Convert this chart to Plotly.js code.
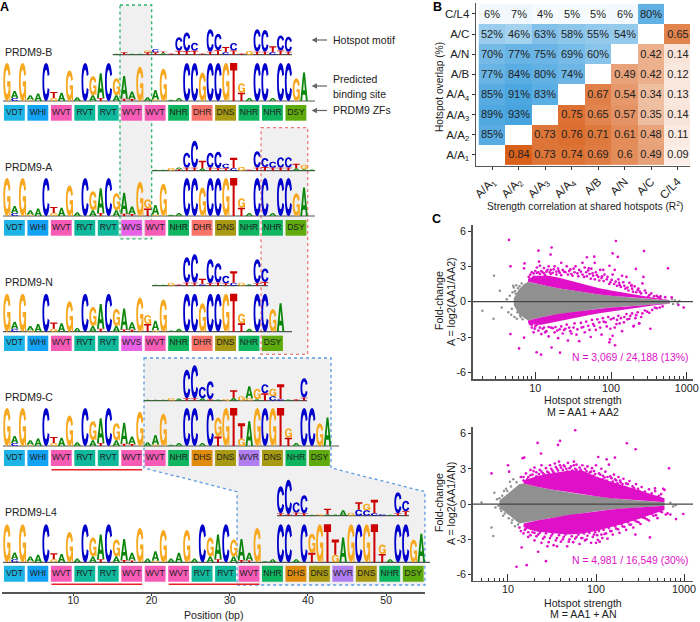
<!DOCTYPE html>
<html><head><meta charset="utf-8">
<script src="https://cdn.plot.ly/plotly-3.0.1.min.js"></script>
<style>html,body{margin:0;padding:0;background:#fff}</style></head>
<body><div id="chart" style="width:700px;height:622px"></div>
<script>
// ---------- Panel A data: each column = letters bottom-to-top with height (% of full logo height)
const rowNames = ["PRDM9-B","PRDM9-A","PRDM9-N","PRDM9-C","PRDM9-L4"];
const zfB = ["VDT","WHI","WVT","RVT","RVT","WVT","WVT","NHR","DHR","DNS","NHR","NHR","DSY"];
const zfA = ["VDT","WHI","WVT","RVT","RVT","WVS","WVT","NHR","DHR","DNS","NHR","NHR","DSY"];
const zfN = ["VDT","WHI","WVT","RVT","RVT","WVS","WVT","NHR","DHR","DNS","NHR","DSY"];
const zfC = ["VDT","WHI","WVT","RVT","RVT","WVT","WVT","NHR","DHS","DNS","WVR","DNS","NHR","DSY"];
const zfL = ["VDT","WHI","WVT","RVT","RVT","WVT","WVT","WVT","RVT","RVT","WVT","NHR","DHS","DNS","WVR","DNS","NHR","DSY"];
const predB = "G100 C8A18 G100 G3A12 A20 C100 G8T16 A22 G80 A10 C100 A15G50 T8A65 C100 A15G45 T6A60 T5A20 G90 A10 G4A25 G85 A3 A8 C100 C100 G75 C100 C100 G100 T100 T22G25 A8 C100 C100 A8 C100 C100 G60 A75";
const predA = "G100 C8A18 G100 G3A12 A20 C100 G8T16 A22 G80 A10 C100 A15G50 T8A65 C100 A15G45 T6A55 T5A20 G90 T20G24 G4A25 G85 A3 A8 C100 C100 G75 C100 C100 G100 T100 T22G25 A8 C100 C100 A8 C100 C100 G60 A75";
const predN = "G100 C8A18 G100 G3A12 A20 C100 G8T16 A22 G80 A10 C100 A15G50 T8A65 C100 A15G45 T6A55 T5A20 G90 T20G24 G4A25 G85 A3 A8 C100 C100 G75 C100 C100 G100 T100 T22G25 A8 C100 C100 G60 A75";
const predC = "G100 C8A18 G100 G3A12 A20 C100 G8T16 A22 G80 A10 C100 A15G50 T8A65 C100 A15G45 T6A55 T5A20 G90 A10 G4A25 G85 A3 A8 C100 C100 A8 C100 T25G50 G100 T100 G20T40 A65 G100 C100 G100 T100 T22G25 A8 C100 C100 G60 A75";
const predL = "G100 C8A18 G100 G3A12 A20 C100 G8T16 A22 G80 A10 C100 A15G50 T8A65 C100 A15G45 T6A55 T5A20 G90 A10 G4A25 G85 A10 A25 G85 A10 C100 A15G50 T8A65 C100 A15G45 T6A55 T5A20 G90 A3 A8 C100 C100 A8 C100 T25G50 G100 T100 G20T40 A65 G100 C100 G100 T100 T22G25 A8 C100 C100 G60 A75";
const motifStartB = 15, motifStartA = 20, motifStartN = 20, motifStartC = 19, motifStartL = 36;
const motifB = "A3 T8 A3 A3 T8G6 T8C10 A6T5 T4 T13C45 T12C62 T13C27 T4 T10C75 T15C55 C8T18 T14C25 T4 G12 T10C75 T10C72 C8T20 T14C50 T10C50";
const motifA = "A3 A3 G9 T5A6 T10C50 T10C90 A8T25 T10C50 T8C55 T8C15 C8T35 G12 T3 T10C55 T12C30 T10C20 T10C35 T10C35 A8T15 A5G15 A4";
const motifN = "A3 A3 G10 T4 T10C85 T10C95 C5T18 T8C80 T10C65 T8C25 C10T38 G10 A5 T8C80 T12C45";
const motifC = "A3 A3 A3 G8 A7 T8C95 T8C110 A8C38 T5C60 A4 G6 A10T25 G15 G8A40 A5G35 T25C30 C15G25 C5T50 A4 T5 T10C65";
const motifL = "T8C90 T5C115 T10C35 T8C60 A3 G6 A5T18 A4 A18 G10 C20T25 C18G22 C8T45 C5 A3 T8C70 T15C35";
const zfColors = {VDT:"#1EB5E6",WHI:"#14A2F5",WVT:"#F65CB6",WVS:"#E762E6",RVT:"#10B89C",NHR:"#10B560",DHR:"#F8736A",DHS:"#DF8C0C",DNS:"#A89A12",DSY:"#5FAB0E",WVR:"#B07EF0"};
const letterColors = {G:"#F7A81E",A:"#0A860A",C:"#0000CC",T:"#CC0000"};
const positionTicks = [10,20,30,40,50];

// ---------- Panel B data
const pairLabels = ["A/A<sub>1</sub>","A/A<sub>2</sub>","A/A<sub>3</sub>","A/A<sub>4</sub>","A/B","A/N","A/C","C/L4"];
const overlapPct = [
 [null,null,null,null,null,null,null,null],
 [85,null,null,null,null,null,null,null],
 [89,93,null,null,null,null,null,null],
 [85,91,83,null,null,null,null,null],
 [77,84,80,74,null,null,null,null],
 [70,77,75,69,60,null,null,null],
 [52,46,63,58,55,54,null,null],
 [6,7,4,5,5,6,80,null]];
const strengthR2 = [
 [null,0.84,0.73,0.74,0.69,0.6,0.49,0.09],
 [null,null,0.73,0.76,0.71,0.61,0.48,0.11],
 [null,null,null,0.75,0.65,0.57,0.35,0.14],
 [null,null,null,null,0.67,0.54,0.34,0.13],
 [null,null,null,null,null,0.49,0.42,0.12],
 [null,null,null,null,null,null,0.42,0.14],
 [null,null,null,null,null,null,null,0.65],
 [null,null,null,null,null,null,null,null]];

// ---------- Panel C data: dense bands as envelopes, sparse points individually
const topLeftM = [5.2,6,7], topLeftUp=[.3,1.0,1.45], topLeftLo=[-.3,-1.0,-1.35];
const topBandM = [8,9,10,12,15,20,30,50,70,100,150,200,300,400,600];
const topGreyUp = [1.7,1.6,1.55,1.42,1.3,1.15,.95,.75,.62,.5,.4,.33,.25,.2,.12];
const topGreyLo = [-1.6,-1.55,-1.45,-1.32,-1.2,-1.05,-.9,-.72,-.6,-.5,-.42,-.35,-.28,-.22,-.15];
const topMagUp = [1.95,2.05,2.2,2.2,2.2,2.05,1.75,1.38,1.15,.95,.75,.6,.42,.3,.15];
const topMagLo = [-1.8,-1.9,-1.95,-1.95,-1.85,-1.65,-1.42,-1.15,-.98,-.82,-.66,-.55,-.4,-.29,-.17];
const topMagM = [4.5,4.7,7.2,7.1,11,11.2,16.4,15.9,116,105,123,273,565,48,60,42,61,95.6,51,79,112,213,160,187,268,310,447,632,776,912,331,236,198,97,113,6.1,7.1,10.4,11.9,21.2,16.4,4.7,
 8.2,8.6,9,9.5,10,10.5,11,11.5,12,13,13,14,15,15.5,16,17,18,19,20,21,22,23,25,26,28,30,32,34,36,38,42,45,47,52,55,58,63,68,72,75,82,88,98,105,115,125,130,140,150,165,175,190,205,225,240,260,290,340,400,450,520,
 8.5,9,9.5,10,11,12,12.5,14,15,16,18,20,21,23,25,27,29,32,35,38,41,45,50,54,58,63,70,75,80,88,95,100,105,112,120,130,140,150,165,180,200,215,235,260,300,350,400,480,
 9.5,10.5,11.5,12.5,13.5,14.5,16,17.5,19,20.5,22,24,27,29,31,33,37,40,44,48,50,54,57,61,65,70,76,80,90,95,102,110,120,128,135,145,155,170,185,195,215,230,250,280,320,370,420,
 9,9.8,10.5,11.5,13,13.5,15,17,18.5,19.5,22,24,26,28,30,33,36,40,43,47,52,56,60,66,72,78,85,92,98,108,118,125,135,148,160,175,190,210,225,250,280,320,380,440];
const topMagA = [5.24,3.0,3.25,2.83,4.33,3.4,4.6,4.0,5.15,4.1,3.8,4.3,2.83,3.77,3.82,3.3,3.3,3.05,2.83,2.7,2.7,2.78,2.1,1.4,2.1,.42,.28,.37,-.28,-.5,-2.3,-1.84,-2.1,-3.2,-3.7,-3.97,-3.06,-4.3,-4.5,-4.33,-3.9,-2.75,
 2.1,2.3,2.5,2.1,2.6,2.9,2.5,3.05,2.6,2.4,2.85,2.55,3.0,2.5,2.7,2.45,3.0,2.55,2.8,2.45,3.3,2.7,2.5,3.0,2.6,2.35,2.8,3.0,2.4,2.7,2.3,2.9,2.5,2.35,2.8,2.2,2.5,2.1,2.7,2.0,2.3,1.9,1.65,2.3,1.7,1.9,1.4,2.2,1.35,1.2,1.6,1.1,1.3,1.0,.85,1.55,.75,.7,.5,.45,.38,
 -1.9,-2.2,-2.6,-2.1,-2.45,-2.75,-2.3,-2.5,-2.95,-2.2,-2.6,-3.1,-2.35,-2.7,-2.3,-3.3,-2.5,-2.2,-2.8,-3.35,-2.2,-2.6,-2.05,-3.0,-1.9,-2.4,-1.75,-2.8,-1.7,-2.1,-3.45,-1.5,-2.9,-2.2,-1.55,-1.85,-2.5,-1.3,-1.5,-1.2,-2.05,-1.15,-1.85,-1.0,-.85,-.7,-.55,-.4,
 2.4,2.45,2.35,2.5,2.25,2.7,2.35,2.75,2.3,2.6,2.25,2.55,2.3,2.75,2.2,2.5,2.15,2.55,2.1,2.15,2.65,1.95,2.4,1.9,2.25,1.8,2.15,1.75,2.1,1.5,1.85,1.5,1.35,1.6,1.25,1.65,1.1,.95,1.35,.85,.8,1.1,.7,.95,.55,.45,.38,
 -1.95,-2.3,-1.95,-2.2,-2.2,-2.6,-2.15,-2.25,-2.15,-2.45,-2.1,-2.4,-1.95,-2.2,-2.7,-1.85,-2.35,-1.8,-2.15,-1.7,-2.4,-1.55,-2.05,-1.5,-2.2,-1.4,-1.75,-1.3,-2.3,-1.4,-1.9,-1.2,-1.4,-1.75,-1.05,-1.45,-1.0,-1.4,-.9,-1.3,-.75,-.95,-.5,-.5];
const topGreyM = [2.85,3.4,2.0,2.8,3.6,4.2,4.6,4.9,5,5.2,5.4,4.4,4.8,5.1,5.3,5.6,5.7,700,760,640,800,660,5.5,5.8,6.2,6.4,6.6,5.9,6.3,6.8];
const topGreyA = [2.2,.93,-.76,-1.45,-.5,.2,.5,-.6,.8,1.2,.9,-.9,-1.1,1.35,-1.3,1.4,-1.45,.1,-.15,.2,.05,-.2,.7,-.9,1.3,-1.3,1.55,1.15,-1.15,-1.5];

const botLeftM = [8,9,10,12,13.5], botLeftUp=[.3,.6,.9,1.4,1.7], botLeftLo=[-.3,-.6,-.9,-1.35,-1.65];
const botBandM = [15,18,22,30,40,50,70,100,150,200,300,400,600];
const botGreyUp = [1.75,1.6,1.45,1.25,1.08,.98,.82,.66,.5,.4,.3,.24,.15];
const botGreyLo = [-1.65,-1.5,-1.38,-1.2,-1.02,-.92,-.78,-.62,-.47,-.38,-.28,-.22,-.14];
const botMagUp = [2.0,2.2,2.4,2.6,2.75,2.85,2.85,2.35,1.9,1.6,1.2,.9,.5];
const botMagLo = [-1.95,-2.2,-2.35,-2.45,-2.55,-2.6,-2.5,-2.3,-1.95,-1.7,-1.3,-1.0,-.5];
const botMagM = [58,21.7,39,37,224,282,23.7,14.7,15.3,10,10.3,6.5,106,164,132,676,467,56,60,14.3,22,27,16.3,12.5,28,36,980,810,650,410,280,
 14,15,16,17,18,19,20,21,23,24,25,27,28,30,32,34,36,38,40,43,46,48,52,56,60,65,70,75,80,85,90,95,100,108,115,120,128,135,140,150,160,170,180,190,205,220,240,260,285,300,330,360,400,430,470,520,580,600,
 13.5,15,16,17,19,20,22,24,26,29,31,33,36,40,43,47,50,55,60,65,70,75,80,88,95,100,105,110,118,125,135,145,155,170,185,200,220,240,265,290,320,360,400,450,500,560,620,700,
 15,16.5,18,19.5,21,22.5,24,26,29,31,33,35,37,39,42,44,47,50,54,58,62,67,72,78,83,88,93,98,104,112,118,125,132,145,155,165,175,188,200,215,230,250,270,310,345,380,420,490,550,
 14,15.5,17,18,20,21,23,25,27,30,32,35,38,42,45,49,53,58,63,68,73,78,84,92,98,103,108,115,122,130,140,150,165,178,195,210,230,250,275,305,340,380,430,480,530];
const botMagA = [6.28,5.2,5.37,5.03,5.17,4.66,4.3,3.9,3.95,3.3,2.75,2.6,4.0,3.95,3.8,3.04,1.33,3.6,2.9,-3.7,-4.06,-4.86,-5.2,-5.34,-3.6,-3.6,-.85,-1.28,-.8,-2.84,-2.6,
 2.3,2.0,2.6,2.3,2.9,2.5,3.1,2.7,2.9,3.3,2.6,3.05,2.75,3.3,2.85,3.45,3.0,3.6,3.1,3.3,3.0,3.5,3.2,3.3,3.35,3.1,3.3,3.0,3.2,2.7,3.05,2.8,3.3,2.6,3.0,2.4,2.75,2.3,3.35,2.2,2.5,2.0,2.3,1.85,2.15,1.75,1.95,1.5,1.7,1.3,1.45,1.05,1.25,.9,1.1,.7,1.3,1.2,
 -2.0,-2.5,-2.1,-2.8,-2.4,-3.1,-2.6,-3.3,-2.8,-3.25,-2.7,-3.5,-2.9,-3.2,-2.8,-3.6,-3.0,-3.25,-2.8,-3.4,-2.9,-3.1,-2.7,-3.3,-2.6,-3.3,-3.05,-3.2,-2.9,-2.55,-2.95,-2.3,-2.6,-2.1,-2.45,-1.9,-2.2,-1.75,-2.0,-1.5,-1.7,-1.2,-1.4,-1.0,-1.2,-.7,-.9,-.9,
 2.3,2.1,2.45,2.8,2.35,2.55,2.75,2.5,2.65,3.0,2.7,3.15,2.85,3.3,2.9,3.2,2.75,3.05,2.85,3.0,2.7,2.9,2.6,2.8,2.5,2.75,2.4,2.55,2.2,2.5,2.1,2.25,2.0,2.35,1.9,2.1,1.75,2.0,1.7,1.45,1.7,1.25,1.35,1.1,.95,.8,.7,.6,.85,
 -2.3,-2.2,-2.4,-2.65,-2.45,-2.75,-2.45,-2.95,-2.5,-2.9,-2.55,-3.1,-2.65,-3.0,-2.6,-3.2,-2.75,-2.95,-2.6,-2.9,-2.5,-3.0,-2.45,-2.8,-2.4,-2.65,-2.3,-2.6,-2.2,-2.5,-2.05,-2.3,-1.9,-2.15,-1.7,-1.95,-1.55,-1.75,-1.4,-1.55,-1.15,-1.3,-.85,-.95,-.6];
const botGreyM = [7,5,6.5,6.8,7.5,8.2,8.6,9,7.8,8.8,9.5,10.5,11,11.5,12,700,800,750,9.8,10.2,10.8,11.2,12.5,13,7.2,8,8.4,9.2];
const botGreyA = [.97,.14,-2,-2.73,.4,-.4,.7,1.1,-.15,-1.0,1.3,1.9,-1.6,2.1,-1.9,.1,-.1,-.2,1.1,-1.2,1.5,-1.35,1.85,-1.75,-.3,.5,-.6,-.8];

// ---------- Letter outlines in a unit box (x right, y up)
const glyphs = {
 C:"M .95 .30 C .90 .10 .72 0 .52 0 C .20 0 .05 .22 .05 .5 C .05 .78 .20 1 .52 1 C .72 1 .90 .90 .95 .70 L .72 .65 C .68 .76 .62 .82 .52 .82 C .36 .82 .28 .68 .28 .5 C .28 .32 .36 .18 .52 .18 C .62 .18 .68 .24 .72 .35 Z",
 G:"M .96 .52 L .54 .52 L .54 .38 L .74 .38 C .72 .25 .63 .18 .52 .18 C .36 .18 .28 .32 .28 .5 C .28 .68 .36 .82 .52 .82 C .62 .82 .68 .76 .72 .66 L .95 .70 C .90 .90 .72 1 .52 1 C .20 1 .05 .78 .05 .5 C .05 .22 .20 0 .52 0 C .66 0 .76 .06 .80 .14 L .82 .01 L .96 .01 Z",
 A:"M .02 0 L .38 1 L .62 1 L .98 0 L .74 0 L .67 .22 L .33 .22 L .26 0 Z M .39 .38 L .61 .38 L .5 .75 Z",
 T:"M .37 0 L .63 0 L .63 .80 L .96 .80 L .96 1 L .04 1 L .04 .80 L .37 .80 Z"
};
const glyphPath = (L,x0,base,h) => glyphs[L].replace(/(-?[\d.]+) (-?[\d.]+)/g,(m,a,b)=>(x0+ +a).toFixed(3)+" "+(base- +b*h).toFixed(2));

// ---------- Layout helpers
const W=700,H=622, px=v=>v/W, py=v=>1-v/H;
const paths={G:[],A:[],C:[],T:[]};
function addLogo(str,startCell,base,fullH){
  str.split(" ").forEach((col,i)=>{
    let y=base, re=/([ACGT])(\d+)/g, m;
    while((m=re.exec(col))){
      const h=+m[2]/100*fullH;
      paths[m[1]].push(glyphPath(m[1],startCell+i,y,h));
      y-=h;
    }
  });
}
const rows=[
 {n:0,mb:54.7,pb:101,zt:105,zb:120.7,mx0:112.7,mx1:292,pe:315,ly:52,zf:zfB,pred:predB,mot:motifB,ms:motifStartB},
 {n:1,mb:170.7,pb:216,zt:220,zb:235.7,mx0:152,mx1:315,pe:315,ly:167,zf:zfA,pred:predA,mot:motifA,ms:motifStartA},
 {n:2,mb:285.7,pb:331.7,zt:335.7,zb:351,mx0:152,mx1:268,pe:292,ly:282,zf:zfN,pred:predN,mot:motifN,ms:motifStartN},
 {n:3,mb:400.7,pb:446,zt:450,zb:466,mx0:144,mx1:307,pe:339,ly:397,zf:zfC,pred:predC,mot:motifC,ms:motifStartC},
 {n:4,mb:515.7,pb:562.3,zt:565.7,zb:581.7,mx0:277,mx1:409,pe:430,ly:512,zf:zfL,pred:predL,mot:motifL,ms:motifStartL}];

const shapes=[], annotations=[];
const dotted=(c)=>({color:c,width:1.3,dash:"dot"});
const polyPaper=(pts)=>"M "+pts.map(p=>px(p[0]).toFixed(4)+" "+py(p[1]).toFixed(4)).join(" L ")+" Z";
shapes.push({type:"path",xref:"paper",yref:"paper",layer:"below",path:polyPaper([[120,5],[151.7,5],[151.7,239],[120,239]]),fillcolor:"#f0f0f0",line:dotted("#2DB36A")});
shapes.push({type:"path",xref:"paper",yref:"paper",layer:"below",path:polyPaper([[261,127.7],[307.7,127.7],[307.7,354.3],[261,354.3]]),fillcolor:"#f0f0f0",line:dotted("#F07A7A")});
shapes.push({type:"path",xref:"paper",yref:"paper",layer:"below",path:polyPaper([[144,358],[331,358],[331,468],[425,491.7],[425,585],[237,585],[237,491.7],[144,468]]),fillcolor:"#f0f0f0",line:dotted("#5C9AE0")});

const note=(t,x,y,size,opt)=>annotations.push(Object.assign({xref:"paper",yref:"paper",x:px(x),y:py(y),text:t,showarrow:false,xanchor:"left",yanchor:"middle",font:{size,color:"#222"}},opt||{}));

const zfTextX=[],zfTextY=[],zfText=[];
rows.forEach(r=>{
  addLogo(r.mot,r.ms,r.mb,30);
  addLogo(r.pred,1,r.pb,38);
  shapes.push({type:"line",xref:"paper",yref:"paper",x0:px(r.mx0),x1:px(r.mx1),y0:py(r.mb),y1:py(r.mb),line:{color:"#555",width:1.2}});
  shapes.push({type:"line",xref:"paper",yref:"paper",x0:px(3),x1:px(r.pe),y0:py(r.pb),y1:py(r.pb),line:{color:"#555",width:1.2}});
  r.zf.forEach((z,i)=>{
    const c=1+3*i;
    shapes.push({type:"rect",xref:"x",yref:"y",layer:"below",x0:c+.13,x1:c+2.8,y0:r.zb,y1:r.zt,fillcolor:zfColors[z],line:{width:0}});
    zfTextX.push(c+1.47); zfTextY.push((r.zt+r.zb)/2); zfText.push(z);
  });
  note(rowNames[r.n],3,r.ly,10.5);
});
Object.keys(paths).forEach(L=>shapes.push({type:"path",xref:"x",yref:"y",path:paths[L].join(" "),fillcolor:letterColors[L],line:{width:0},layer:"above"}));
[[469.7,7.2,18.8],[584.3,7.2,18.8],[584.3,22.2,33.8]].forEach(u=>shapes.push({type:"line",xref:"x",yref:"y",x0:u[1],x1:u[2],y0:u[0],y1:u[0],line:{color:"#E8202A",width:1.5}}));

// side notes with arrows
note("Hotspot motif",331,40,10.5); note("Predicted",331,79,10.5); note("binding site",331,93.5,10.5); note("PRDM9 ZFs",331,110.5,10.5);
[40,86,110.5].forEach(y=>{
  shapes.push({type:"line",xref:"paper",yref:"paper",x0:px(315),x1:px(327),y0:py(y),y1:py(y),line:{color:"#666",width:1.2}});
  shapes.push({type:"path",xref:"paper",yref:"paper",path:polyPaper([[311.5,y],[317,y-2.8],[317,y+2.8]]),fillcolor:"#666",line:{width:0}});
});
[["A",4,7],["B",438,7],["C",436,219]].forEach(a=>note("<b>"+a[0]+"</b>",a[1],a[2],12.5,{xanchor:"center",font:{size:12.5,color:"#000"}}));
note("N = 3,069 / 24,188 (13%)",690,357,10.4,{xanchor:"right",font:{size:10.4,color:"#E010C8"}});
note("N = 4,981 / 16,549 (30%)",690,560,10.4,{xanchor:"right",font:{size:10.4,color:"#E010C8"}});
// axis titles
const ctr={xanchor:"center"}, vert={xanchor:"center",textangle:-90};
note("Position (bp)",213,614.5,10.6,ctr);
note("Strength correlation at shared hotspots (R<sup>2</sup>)",585,206,10.2,ctr);
note("Hotspot overlap (%)",439,87,10.2,vert);
note("Hotspot strength",583,400,10.6,ctr); note("M = AA1 + AA2",583,411.5,10.6,ctr);
note("Hotspot strength",583,602.5,10.6,ctr); note("M = AA1 + AN",583,613.5,10.6,ctr);
note("Fold-change",439,301,10.6,vert); note("A = log2(AA1/AA2)",451,301,10.6,vert);
note("Fold-change",439,503,10.6,vert); note("A = log2(AA1/AN)",451,503,10.6,vert);

// zero lines
[["x3 domain","y3"],["x4 domain","y4"]].forEach(s=>shapes.push({type:"line",xref:s[0],yref:s[1],x0:0,x1:1,y0:0,y1:0,line:{color:"#444",width:1.3}}));

// ---------- Traces
const hull=(xs,up,lo)=>({x:xs.concat(xs.slice().reverse()),y:up.concat(lo.slice().reverse())});
const band=(h,c,xa,ya)=>({type:"scatter",mode:"lines",x:h.x,y:h.y,fill:"toself",fillcolor:c,line:{width:0},xaxis:xa,yaxis:ya,hoverinfo:"skip",showlegend:false});
const pts=(x,y,c,xa,ya,s)=>({type:"scatter",mode:"markers",x,y,marker:{size:s,color:c,line:{width:0}},xaxis:xa,yaxis:ya,showlegend:false});
const GREY="#909090",MAG="#E010C8";

const traces=[
 {type:"scatter",mode:"text",x:zfTextX,y:zfTextY,text:zfText,textposition:"middle center",textfont:{size:8.5,color:"#1d1d1d"},xaxis:"x",yaxis:"y",showlegend:false,hoverinfo:"skip"},
 {type:"heatmap",x:pairLabels,y:pairLabels,z:overlapPct,text:overlapPct.map(r=>r.map(v=>v===null?"":v+"%")),texttemplate:"%{text}",textfont:{size:11,color:"#222"},zmin:0,zmax:100,colorscale:[[0,"#ffffff"],[1,"#3A9DDD"]],showscale:false,xaxis:"x2",yaxis:"y2",hoverongaps:false},
 {type:"heatmap",x:pairLabels,y:pairLabels,z:strengthR2,text:strengthR2.map(r=>r.map(v=>v===null?"":String(v))),texttemplate:"%{text}",textfont:{size:11,color:"#222"},zmin:0,zmax:0.84,colorscale:[[0,"#ffffff"],[1,"#D8601A"]],showscale:false,xaxis:"x2",yaxis:"y2",hoverongaps:false},
 band(hull(topLeftM.concat(topBandM),topLeftUp.concat(topGreyUp),topLeftLo.concat(topGreyLo)),GREY,"x3","y3"),
 band(hull(topBandM,topMagUp,topGreyUp),MAG,"x3","y3"),
 band(hull(topBandM,topGreyLo,topMagLo),MAG,"x3","y3"),
 pts(topGreyM,topGreyA,GREY,"x3","y3",2.5),
 pts(topMagM,topMagA,MAG,"x3","y3",2.7),
 band(hull(botLeftM.concat(botBandM),botLeftUp.concat(botGreyUp),botLeftLo.concat(botGreyLo)),GREY,"x4","y4"),
 band(hull(botBandM,botMagUp,botGreyUp),MAG,"x4","y4"),
 band(hull(botBandM,botGreyLo,botMagLo),MAG,"x4","y4"),
 pts(botGreyM,botGreyA,GREY,"x4","y4",2.5),
 pts(botMagM,botMagA,MAG,"x4","y4",2.7)
];

// ---------- Axes
const tf={size:10.8,color:"#222"}, axLine={showline:true,linecolor:"#555",linewidth:1.4,zeroline:false,showgrid:false};
const minorVals=[2,3,4,5,6,7,8,9,20,30,40,50,60,70,80,90,200,300,400,500,600,700,800,900];
const logTicks={type:"log",tickvals:[10,100,1000],ticktext:["10","100","1000"],ticks:"inside",ticklen:7,tickcolor:"#333",tickwidth:1,tickfont:tf,ticklabelstandoff:-2,minor:{tickmode:"array",tickvals:minorVals,ticks:"inside",ticklen:3.5,tickcolor:"#333",tickwidth:1}};
const foldTicks={tickvals:[-6,-3,0,3,6],ticktext:["-6","-3","0","3","6"],ticks:"outside",ticklen:3,tickcolor:"#333",tickfont:tf};
const layout={
 width:W,height:H,autosize:false,margin:{l:0,r:0,t:0,b:0},paper_bgcolor:"#fff",plot_bgcolor:"rgba(0,0,0,0)",
 font:{family:"Liberation Sans, Arial, sans-serif",color:"#222"},showlegend:false,hovermode:"closest",
 xaxis:Object.assign({},axLine,{domain:[px(2),px(425)],range:[0.88,54.97],tickvals:positionTicks,ticks:"outside",ticklen:2,tickcolor:"#333",tickfont:{size:10.5,color:"#222"},ticklabelstandoff:-4,anchor:"y"}),
 yaxis:{domain:[py(592.3),1],range:[592.3,0],visible:false,anchor:"x"},
 xaxis2:Object.assign({},axLine,{domain:[px(476),px(690)],type:"category",categoryorder:"array",categoryarray:pairLabels,range:[-0.604,7.47],tickangle:-45,ticks:"outside",ticklen:3,tickcolor:"#333",tickfont:{size:11.5,color:"#222"},anchor:"y2"}),
 yaxis2:Object.assign({},axLine,{domain:[py(166),py(3.3)],type:"category",categoryorder:"array",categoryarray:pairLabels,range:[-0.562,7.53],ticks:"outside",ticklen:3,tickcolor:"#333",tickfont:{size:11.5,color:"#222"},anchor:"x2"}),
 xaxis3:Object.assign({},axLine,logTicks,{domain:[px(472.7),px(693)],range:[0.173,3.083],anchor:"y3"}),
 yaxis3:Object.assign({},axLine,foldTicks,{domain:[py(379.3),py(225)],range:[-6.59,6.51],anchor:"x3"}),
 xaxis4:Object.assign({},axLine,logTicks,{domain:[px(472.7),px(693)],range:[0.599,3.102],anchor:"y4"}),
 yaxis4:Object.assign({},axLine,foldTicks,{domain:[py(581),py(426.7)],range:[-6.55,6.58],anchor:"x4"}),
 shapes,annotations
};
Plotly.newPlot("chart",traces,layout,{staticPlot:true,displayModeBar:false});
</script></body></html>
